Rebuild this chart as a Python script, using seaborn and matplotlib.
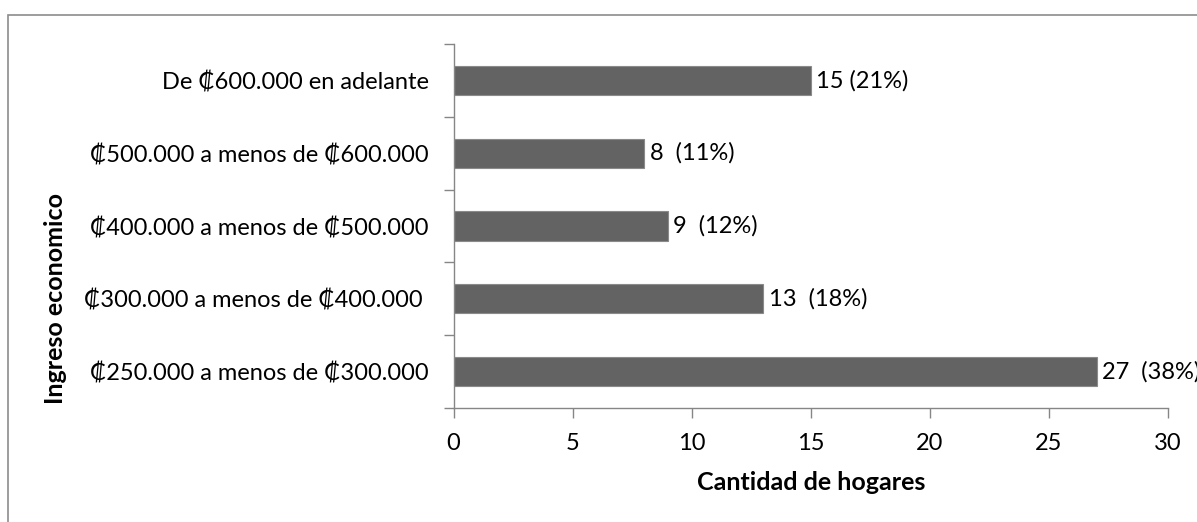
import matplotlib
matplotlib.use("Agg")
import matplotlib.pyplot as plt
import seaborn as sns
import pandas as pd
from matplotlib.patches import Rectangle

categories = [
    "De ₡600.000 en adelante",
    "₡500.000 a menos de ₡600.000",
    "₡400.000 a menos de ₡500.000",
    "₡300.000 a menos de ₡400.000 ",
    "₡250.000 a menos de ₡300.000",
]
values = [15, 8, 9, 13, 27]
labels = ["15 (21%)", "8  (11%)", "9  (12%)", "13  (18%)", "27  (38%)"]
x_ticks = [0, 5, 10, 15, 20, 25, 30]

sns.set_theme(style="white")
plt.rcParams['font.family'] = ['Lato', 'DejaVu Sans']

FS = 17

df = pd.DataFrame({"cat": categories, "val": values})

fig = plt.figure(figsize=(11.97, 5.22), dpi=100)
ax = fig.add_axes([453.5 / 1197, 1 - 408 / 522, (1168 - 453.5) / 1197, (408 - 44) / 522])

sns.barplot(data=df, x="val", y="cat", orient="h", color="#636363",
            width=0.4, edgecolor="#8a8a8a", linewidth=0.8, saturation=1, ax=ax)

ax.set_xlim(0, 30)
ax.set_ylim(4.5, -0.5)
ax.set_xticks(x_ticks)
ax.set_xticklabels([str(t) for t in x_ticks], fontsize=FS, color="black")
ax.tick_params(axis="y", which="major", length=0, pad=18, labelsize=FS, labelcolor="black")
ax.set_yticks([i - 0.5 for i in range(len(categories) + 1)], minor=True)
ax.tick_params(axis="y", which="minor", length=7, width=1, color="#868686", direction="out", left=True)
ax.tick_params(axis="x", which="major", length=7, width=1, color="#868686", direction="out", bottom=True, pad=11)

for s in ["top", "right"]:
    ax.spines[s].set_visible(False)
for s in ["left", "bottom"]:
    ax.spines[s].set_color("#868686")
    ax.spines[s].set_linewidth(1)

ax.set_xlabel("Cantidad de hogares", fontsize=18, fontweight="bold", labelpad=12, color="black")
ax.set_ylabel("Ingreso economico", fontsize=18, fontweight="bold", color="black")
ax.yaxis.set_label_coords((67 - 453.5) / (1168 - 453.5), (408 - 299) / (408 - 44))

for cont in ax.containers:
    ax.bar_label(cont, labels=labels, padding=4, fontsize=17, color="black")

fig.add_artist(Rectangle((7.5 / 1197, -0.1), 1.2, (1 - 15 / 522) + 0.1,
                         transform=fig.transFigure, fill=False,
                         edgecolor="#8c8c8c", linewidth=1.2))

fig.savefig("out.png", dpi=100)
